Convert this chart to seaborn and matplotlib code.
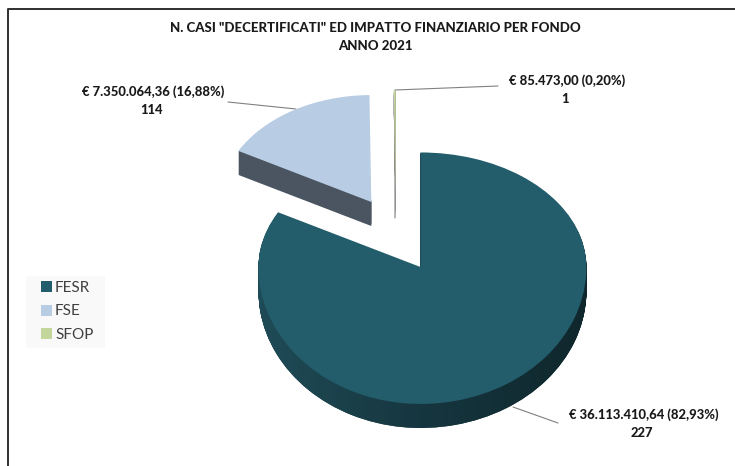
# 3D-looking exploded pie: n. casi decertificati per fondo

import matplotlib
matplotlib.use("Agg")
import matplotlib.pyplot as plt
import numpy as np
import seaborn as sns
from matplotlib.path import Path
from matplotlib.patches import PathPatch, Rectangle

fondi = ["FESR", "FSE", "SFOP"]
importi = [36113410.64, 7350064.36, 85473.00]
casi = [227, 114, 1]
etichette_importo = ["€ 36.113.410,64 (82,93%)", "€ 7.350.064,36 (16,88%)", "€ 85.473,00 (0,20%)"]

W, H = 735, 466
DEPTH = 24

colori = sns.color_palette(["#235d6b", "#b8cce4", "#c3d69b"])
lati = sns.color_palette(["#16353e", "#4a5561", "#a8a8a8"])

sns.set_theme(style="white")
plt.rcParams["font.family"] = ["Lato", "DejaVu Sans"]

# fake perspective: piecewise scales around the FESR vertex (421, 267)
OX, OY = 421, H - 267
SX_L, SX_R = 0.976, 1.0
SY_D, SY_U = 0.825, 0.69


def fwd_x(v):
    v = np.asarray(v, dtype=float)
    return OX + v * np.where(v < 0, SX_L, SX_R)


def inv_x(p):
    p = np.asarray(p, dtype=float) - OX
    return p / np.where(p < 0, SX_L, SX_R)


def fwd_y(v):
    v = np.asarray(v, dtype=float)
    return OY + v * np.where(v < 0, SY_D, SY_U)


def inv_y(p):
    p = np.asarray(p, dtype=float) - OY
    return p / np.where(p < 0, SY_D, SY_U)


# image pixel to data
def px(x):
    return float(inv_x(x))


def py(y):
    return float(inv_y(H - y))


def draw_pie(ax, shift, cols, z):
    wedges, _ = ax.pie(importi, colors=cols, startangle=90, counterclock=False,
                       explode=[49, 49, 57], radius=160, center=(px(396), py(234)))
    for w, r, nudge, sy in zip(wedges, [166, 155, 152], [-5.7, 4.4, 0], [SY_D, SY_U, SY_U]):
        cx, cy = w.center
        w.set_radius(r)
        w.set_center((cx, cy + nudge - shift / sy))
        w.set_linewidth(0)
        w.set_zorder(z)
    return wedges


fig = plt.figure(figsize=(W / 100, H / 100), dpi=100)
ax = fig.add_axes([0, 0, 1, 1])

# side walls: copies going down, merged in one path per slice
# (stacked patches pile up their antialiased edges into a dark streak)
strati = [draw_pie(ax, s, lati, 2) for s in range(DEPTH, 0, -1)]
for st in strati:
    st[1].set_theta1(st[1].theta1 + 2)  # keep FSE wall off the straight top edge
pareti = []
for i in range(len(fondi)):
    pareti.append(Path.make_compound_path(*[st[i].get_path() for st in strati]))
    ax.add_patch(PathPatch(pareti[i], fc=lati[i], lw=0, zorder=2))
for st in strati:
    for w in st:
        w.remove()

# FESR wall gets a left to right shade
shade = np.linspace(0, 1, 64).reshape(1, -1)
cmap = sns.blend_palette(["#1f4c58", "#16363f", "#0f262c"], as_cmap=True)
im = ax.imshow(shade, cmap=cmap, extent=(px(250), px(595), py(440), py(140)), aspect="auto", zorder=3)
im.set_clip_path(pareti[0], transform=ax.transData)

top = draw_pie(ax, 0, colori, 4)

ax.set_aspect("auto")
ax.set_xscale("function", functions=(fwd_x, inv_x))
ax.set_yscale("function", functions=(fwd_y, inv_y))
ax.set_xlim(px(0), px(W))
ax.set_ylim(py(H), py(0))
ax.axis("off")

# frame of the original chart area, only left and top are in the crop
ax.plot([px(8), px(8), px(W)], [py(H), py(9), py(9)], color="#303030", lw=1.4, zorder=6)

# title
ax.text(px(375), py(28), 'N. CASI "DECERTIFICATI" ED IMPATTO FINANZIARIO PER FONDO',
        ha="center", va="center", fontsize=9.5, fontweight="black", color="#1a1a1a")
ax.text(px(375), py(46), "ANNO 2021", ha="center", va="center", fontsize=9.5, fontweight="black", color="#1a1a1a")

# data labels with leader lines
pos_testo = [(644, 415), (153, 92), (567, 81)]
leader = [[(513, 407), (558, 423)], [(228, 102), (296, 109)], [(498, 86), (395, 90), (395, 218)]]
for i in range(len(fondi)):
    x, y = pos_testo[i]
    ax.text(px(x), py(y), etichette_importo[i], ha="center", va="center", fontsize=9.4, fontweight="black", color="#1a1a1a")
    ax.text(px(x - 2), py(y + 18), str(casi[i]), ha="center", va="center", fontsize=9.4, fontweight="black", color="#1a1a1a")
    ax.plot([px(v[0]) for v in leader[i]], [py(v[1]) for v in leader[i]], color="#808080", lw=0.8, zorder=3.5)

# legend sits on a pale box
ax.add_patch(Rectangle((px(26), py(348)), px(105) - px(26), py(276) - py(348), fc="#f9f9f9", ec="none", zorder=1))
leg = ax.legend(top, fondi, loc="upper left", bbox_to_anchor=(41 / W, 1 - 281 / H), bbox_transform=fig.transFigure,
                frameon=False, fontsize=11, labelcolor="#404040",
                handlelength=0.72, handleheight=0.72, handletextpad=0.2, labelspacing=0.62, borderpad=0,
                borderaxespad=0)

fig.savefig("out.png", dpi=100)
